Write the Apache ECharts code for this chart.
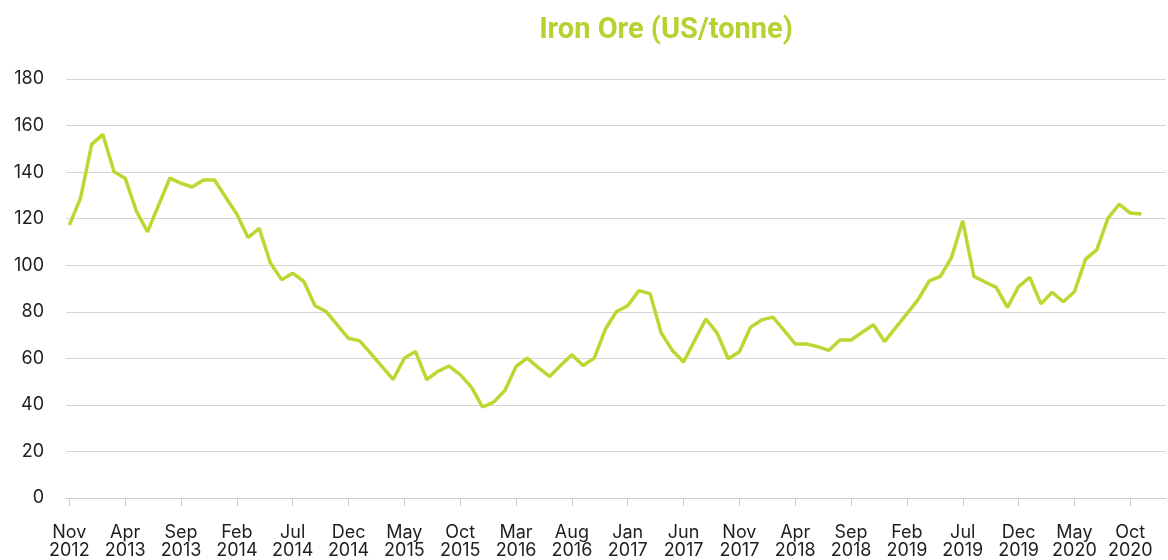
<!DOCTYPE html>
<html>
<head>
<meta charset="utf-8">
<script src="https://cdn.jsdelivr.net/npm/echarts@6/dist/echarts.min.js"></script>
<style>html,body{margin:0;padding:0;background:#fff}#c{width:1168px;height:560px}</style>
</head>
<body>
<div id="c"></div>
<script>
const title = 'Iron Ore (US/tonne)';
const monthNames = ['Jan','Feb','Mar','Apr','May','Jun','Jul','Aug','Sep','Oct','Nov','Dec'];
// monthly categories Nov 2012 .. Nov 2020
const months = [];
for (let k = 0; k < 97; k++) { const m = (10 + k) % 12; const y = 2012 + Math.floor((10 + k) / 12); months.push(monthNames[m] + '\n' + y); }
const prices = [
  117.2,128.8,151.9,156.2,140.2,137.4,123.3,114.3,125.9,137.4,
  135.2,133.6,136.6,136.6,129.2,121.9,111.9,115.8,101.0,93.8,
  96.6,93.0,82.6,80.1,74.3,68.6,67.5,62.0,56.4,50.9,
  60.1,62.9,50.9,54.4,56.7,53.0,47.6,39.1,41.2,46.2,
  56.5,60.1,56.0,52.2,57.0,61.5,56.9,60.1,72.6,80.1,
  82.6,89.1,87.8,70.9,63.4,58.4,67.7,76.9,70.9,59.8,
  62.8,73.4,76.5,77.7,72.0,66.2,66.2,65.0,63.4,67.9,
  67.9,71.2,74.4,67.2,73.2,79.2,85.2,93.3,95.2,103.4,
  119.1,95.2,92.8,90.5,81.9,90.8,94.8,83.4,88.4,84.3,
  88.6,102.6,106.6,120.1,126.2,122.4,122.0
];
const labelIdx = [0,5,10,15,20,25,30,35,40,45,50,55,60,65,70,75,80,85,90,95];
const yTicks = [0,20,40,60,80,100,120,140,160,180];

const chart = echarts.init(document.getElementById('c'), null, {renderer:'canvas'});
chart.setOption({
  animation: false,
  title: {
    text: title, left: 661, top: 11, textAlign: 'center',
    textStyle: {color:'#b8d130', fontSize: 29, fontWeight: 'bold', fontFamily: 'Roboto, sans-serif'}
  },
  grid: {left: 66, right: 2, top: 79, bottom: 60.5, containLabel: false},
  xAxis: {
    type: 'value', min: -0.3, max: 98.2,
    axisLine: {show: true, lineStyle: {color:'#cccccc', width: 1}},
    axisTick: {show: true, length: 8, lineStyle: {color:'#cccccc'}, customValues: labelIdx},
    splitLine: {show: false},
    axisLabel: {
      customValues: labelIdx, margin: 26, color:'#1e1e1e', fontSize: 18, lineHeight: 18,
      fontFamily: 'Inter, sans-serif',
      formatter: v => months[Math.round(v)] || ''
    }
  },
  yAxis: {
    type: 'value', min: yTicks[0], max: yTicks[yTicks.length-1], interval: 20,
    axisLine: {show: false}, axisTick: {show: false},
    splitLine: {lineStyle: {color:'#d4d4d4', width: 1}},
    axisLabel: {margin: 22, color:'#1e1e1e', fontSize: 18, fontFamily: 'Inter, sans-serif'}
  },
  series: [{
    type: 'line', data: prices.map((v, i) => [i, v]),
    showSymbol: false, smooth: false,
    lineStyle: {color:'#bdd631', width: 3.5}
  }]
});
</script>
</body>
</html>
